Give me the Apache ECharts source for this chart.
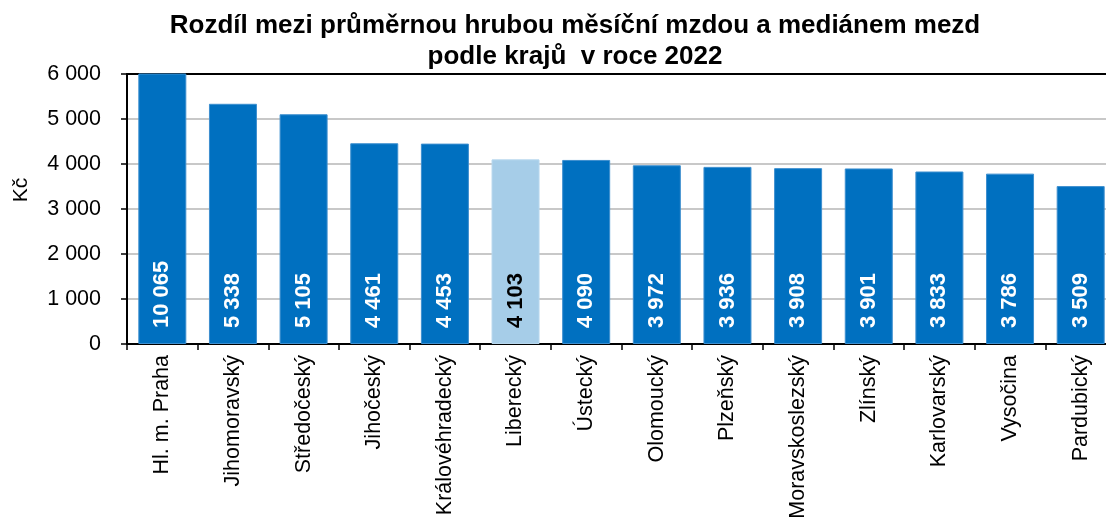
<!DOCTYPE html>
<html>
<head>
<meta charset="utf-8">
<script src="https://cdn.jsdelivr.net/npm/echarts@6/dist/echarts.min.js"></script>
<style>
  html, body { margin: 0; padding: 0; background: #fff; }
  #myCharts { width: 1106px; height: 518px; }
</style>
</head>
<body>
<div id="myCharts"></div>
<script>
let dataName = ["Hl. m. Praha", "Jihomoravský", "Středočeský", "Jihočeský", "Královéhradecký", "Liberecký", "Ústecký", "Olomoucký", "Plzeňský", "Moravskoslezský", "Zlínský", "Karlovarský", "Vysočina", "Pardubický"];
let dataList = [10065, 5338, 5105, 4461, 4453, 4103, 4090, 3972, 3936, 3908, 3901, 3833, 3786, 3509];
let yTicks = [0, 1000, 2000, 3000, 4000, 5000, 6000];
let highlighted = "Liberecký";

const font = "Liberation Sans, Arial, sans-serif";
const fmt = (v) => String(v).replace(/\B(?=(\d{3})+(?!\d))/g, " ");

let option = {
  animation: false,
  title: {
    text: "Rozdíl mezi průměrnou hrubou měsíční mzdou a mediánem mezd\npodle krajů  v roce 2022",
    left: 570,
    top: 5,
    textAlign: "center",
    textStyle: {
      fontFamily: font,
      fontWeight: "bold",
      fontSize: 26,
      lineHeight: 31,
      color: "#000",
    },
  },
  graphic: [
    {
      type: "text",
      x: 21,
      y: 190,
      rotation: Math.PI / 2,
      style: {
        text: "Kč",
        fontFamily: font,
        fontSize: 21,
        fill: "#000",
        textAlign: "center",
        textVerticalAlign: "middle",
      },
    },
  ],
  grid: {
    left: 127,
    right: -10,
    top: 74,
    bottom: 174,
    outerBoundsMode: "none",
    containLabel: false,
  },
  xAxis: [
    {
      type: "category",
      data: dataName,
      axisLine: { lineStyle: { color: "#000", width: 2 } },
      axisTick: { show: true, length: 6, lineStyle: { color: "#000", width: 1.5 } },
      axisLabel: {
        rotate: 90,
        margin: 11,
        color: "#000",
        fontFamily: font,
        fontSize: 21.5,
        interval: 0,
      },
    },
    {
      type: "category",
      position: "top",
      data: dataName,
      axisLine: { lineStyle: { color: "#000", width: 2 } },
      axisTick: { show: false },
      axisLabel: { show: false },
    },
  ],
  yAxis: {
    type: "value",
    min: yTicks[0],
    max: yTicks[yTicks.length - 1],
    interval: 1000,
    axisLine: { show: true, lineStyle: { color: "#000", width: 2 } },
    axisTick: { show: true, length: 6, lineStyle: { color: "#000", width: 1.5 } },
    axisLabel: {
      margin: 26,
      color: "#000",
      fontFamily: font,
      fontSize: 21.5,
      formatter: fmt,
    },
    splitLine: { lineStyle: { color: "#c8c8c8", width: 2 } },
  },
  series: [
    {
      type: "bar",
      barWidth: 48,
      clip: true,
      data: dataList.map((v, i) => {
        let hi = dataName[i] === highlighted;
        return {
          value: v,
          itemStyle: {
            color: hi ? "#a6cde8" : "#0070c0",
            borderColor: hi ? "#b8d8ee" : "#3d8fcf",
            borderWidth: 1,
          },
          label: { color: hi ? "#000" : "#fff" },
        };
      }),
      label: {
        show: true,
        position: "insideBottom",
        rotate: 90,
        align: "left",
        verticalAlign: "middle",
        distance: 16,
        fontFamily: font,
        fontWeight: "bold",
        fontSize: 22,
        formatter: (p) => fmt(p.value),
      },
    },
  ],
};

let myChart = echarts.init(document.getElementById("myCharts"));
myChart.setOption(option);
</script>
</body>
</html>
